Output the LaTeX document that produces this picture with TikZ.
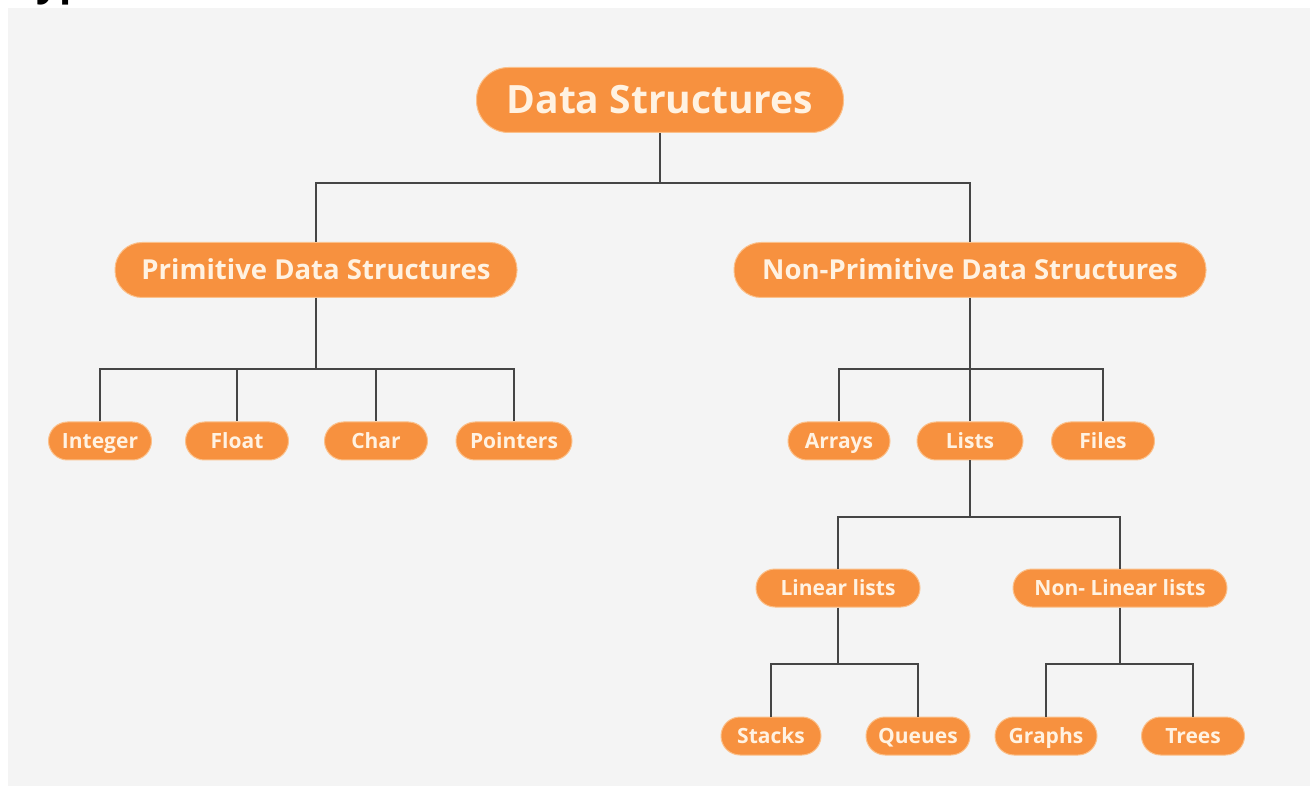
\documentclass[tikz,border=0pt]{standalone}
\usepackage{fontspec}
\setmainfont{Open Sans}
\definecolor{bg}{HTML}{F4F4F4}
\definecolor{org}{HTML}{F7913F}
\definecolor{orgedge}{HTML}{FBC08A}
\definecolor{txt}{HTML}{FFF2E2}
\definecolor{ln}{HTML}{454545}
\begin{document}
\begin{tikzpicture}[x=1pt,y=-1pt,
  pill/.style={fill=org, draw=orgedge, line width=1pt, text=txt, inner sep=0pt, align=center},
  top/.style={pill, minimum height=65pt, rounded corners=32pt, text height=28pt, text depth=0pt, font=\bfseries\fontsize{39}{40}\selectfont},
  mid/.style={pill, minimum height=55pt, rounded corners=27pt, text height=20pt, text depth=0pt, font=\bfseries\fontsize{27.5}{29}\selectfont},
  leaf/.style={pill, minimum height=38pt, rounded corners=19pt, text height=15pt, text depth=0pt, font=\bfseries\fontsize{21}{23}\selectfont},
  conn/.style={draw=ln, line width=2pt}]
\useasboundingbox (0,0) rectangle (1315,791);
\fill[white] (0,0) rectangle (1315,791);
\fill[bg] (8,8) rectangle (1310,786);
\begin{scope}
\clip (0,0) rectangle (1315,8);
\node[anchor=base west, inner sep=0pt, font=\bfseries\fontsize{40}{40}\selectfont] (title) at (14,-4) {Types of Data Structures};
\end{scope}
% junctions
\coordinate (j1) at (660,183);
\coordinate (j2) at (316,369);
\coordinate (j3) at (970,369);
\coordinate (j4) at (970,517);
\coordinate (j5) at (838,664);
\coordinate (j6) at (1120,664);
% nodes
\node[top, minimum width=367pt] (ds) at (660,100) {Data Structures};
\node[mid, minimum width=402pt] (pds) at (316,270) {Primitive Data Structures};
\node[mid, minimum width=472pt] (npds) at (970,270) {Non-Primitive Data Structures};
\node[leaf, minimum width=103pt] (int) at (100,441) {Integer};
\node[leaf, minimum width=103pt] (flt) at (237,441) {Float};
\node[leaf, minimum width=103pt] (chr) at (376,441) {Char};
\node[leaf, minimum width=116pt] (ptr) at (514,441) {Pointers};
\node[leaf, minimum width=102pt] (arr) at (839,441) {Arrays};
\node[leaf, minimum width=106pt] (lst) at (970,441) {Lists};
\node[leaf, minimum width=103pt] (fil) at (1103,441) {Files};
\node[leaf, minimum width=164pt] (lin) at (838,588) {Linear lists};
\node[leaf, minimum width=214pt] (nlin) at (1120,588) {Non- Linear lists};
\node[leaf, minimum width=100pt] (stk) at (771,736) {Stacks};
\node[leaf, minimum width=104pt] (que) at (918,736) {Queues};
\node[leaf, minimum width=102pt] (gra) at (1046,736) {Graphs};
\node[leaf, minimum width=103pt] (tre) at (1193,736) {Trees};
% connectors
\draw[conn] (ds.south) -- (j1);
\draw[conn] (j1) -| (pds.north);
\draw[conn] (j1) -| (npds.north);
\draw[conn] (pds.south) -- (j2);
\draw[conn] (j2) -| (int.north);
\draw[conn] (j2) -| (flt.north);
\draw[conn] (j2) -| (chr.north);
\draw[conn] (j2) -| (ptr.north);
\draw[conn] (npds.south) -- (lst.north);
\draw[conn] (j3) -| (arr.north);
\draw[conn] (j3) -| (fil.north);
\draw[conn] (lst.south) -- (j4);
\draw[conn] (j4) -| (lin.north);
\draw[conn] (j4) -| (nlin.north);
\draw[conn] (lin.south) -- (j5);
\draw[conn] (j5) -| (stk.north);
\draw[conn] (j5) -| (que.north);
\draw[conn] (nlin.south) -- (j6);
\draw[conn] (j6) -| (gra.north);
\draw[conn] (j6) -| (tre.north);
\end{tikzpicture}
\end{document}
